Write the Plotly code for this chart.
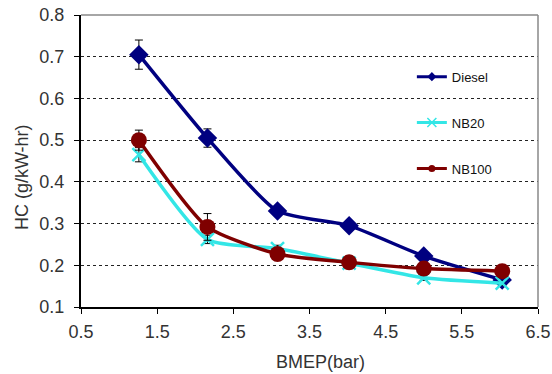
import plotly.graph_objects as go

bmep = [1.26, 2.16, 3.08, 4.02, 5.0, 6.03]
diesel = [0.705, 0.505, 0.330, 0.295, 0.222, 0.165]
diesel_err = [0.035, 0.022, 0.010, 0.010, 0.008, 0.006]
nb20 = [0.465, 0.262, 0.240, 0.205, 0.170, 0.157]
nb20_err = [0.017, 0.010, 0.008, 0.006, 0.006, 0.005]
nb100 = [0.500, 0.292, 0.227, 0.207, 0.192, 0.186]
nb100_err = [0.024, 0.032, 0.008, 0.006, 0.005, 0.005]

xticks = [0.5, 1.5, 2.5, 3.5, 4.5, 5.5, 6.5]

fig = go.Figure()

series = [
    ("Diesel", diesel, diesel_err, "#000080", "diamond", 15, None, 7),
    ("NB20", nb20, nb20_err, "#33E6E6", "x-thin-open", 13, 2.5, 9),
    ("NB100", nb100, nb100_err, "#7F0000", "circle", 16, None, 7),
]

for i, (name, ys, err, color, sym, size, mlw, lsize) in enumerate(series):
    marker = dict(symbol=sym, size=size, color=color)
    if mlw:
        marker["line"] = dict(color=color, width=mlw)
    fig.add_trace(go.Scatter(
        x=bmep, y=ys, name=name, mode="lines+markers",
        line=dict(color=color, width=3.5, shape="spline", smoothing=0.6),
        marker=marker,
        error_y=dict(type="data", array=err, visible=True,
                     color="black", thickness=1, width=4),
        showlegend=False,
    ))
    # legend entry with a small marker, as in the key
    lmarker = dict(symbol=sym, size=lsize, color=color)
    if mlw:
        lmarker["line"] = dict(color=color, width=1.5)
    fig.add_trace(go.Scatter(
        x=[None], y=[None], name=name, mode="lines+markers",
        line=dict(color=color, width=3), marker=lmarker,
        legendgroup=f"g{i}", showlegend=True,
    ))

title_font = dict(family="Liberation Sans, Arial", size=18, color="#333")

fig.update_layout(
    width=552, height=374,
    margin=dict(l=81, r=14, t=15, b=67, autoexpand=False),
    paper_bgcolor="white", plot_bgcolor="white",
    font=dict(family="Liberation Sans, Arial", color="#222"),
    showlegend=True,
    legend=dict(
        x=0.724, y=0.84, xanchor="left", yanchor="top",
        bgcolor="rgba(0,0,0,0)", font=dict(size=13, color="#111"),
        traceorder="grouped", tracegroupgap=26, itemwidth=30,
    ),
    xaxis=dict(
        range=[0.5, 6.5], tickvals=xticks,
        ticktext=[f"{v:g}" for v in xticks],
        showgrid=False, zeroline=False, automargin=False,
        showline=True, linecolor="black", linewidth=2,
        ticks="outside", ticklen=5, tickcolor="black", ticklabelstandoff=2,
        tickfont=dict(size=18, color="#333"),
        mirror=False,
    ),
    yaxis=dict(
        range=[0.1, 0.8], dtick=0.1, tickformat=".1f",
        showgrid=True, gridcolor="#222", griddash="dot", gridwidth=1,
        zeroline=False, automargin=False,
        showline=True, linecolor="black", linewidth=2,
        ticks="outside", ticklen=5, tickcolor="black", ticklabelstandoff=6,
        tickfont=dict(size=18, color="#333"),
    ),
    annotations=[
        dict(text="BMEP(bar)", xref="paper", yref="paper", x=0.523, y=0,
             xanchor="center", yanchor="middle", yshift=-55,
             showarrow=False, font=title_font),
        dict(text="HC (g/kW-hr)", xref="paper", yref="paper", x=0, y=0.445,
             xanchor="center", yanchor="middle", xshift=-59, textangle=-90,
             showarrow=False, font=title_font),
    ],
)

# light frame on the top and right of the plot area
fig.add_shape(type="line", xref="paper", yref="paper", x0=0, x1=1, y0=1, y1=1,
              line=dict(color="#888", width=1.5))
fig.add_shape(type="line", xref="paper", yref="paper", x0=1, x1=1, y0=0, y1=1,
              line=dict(color="#888", width=1.5))

fig.write_html("out.html")
